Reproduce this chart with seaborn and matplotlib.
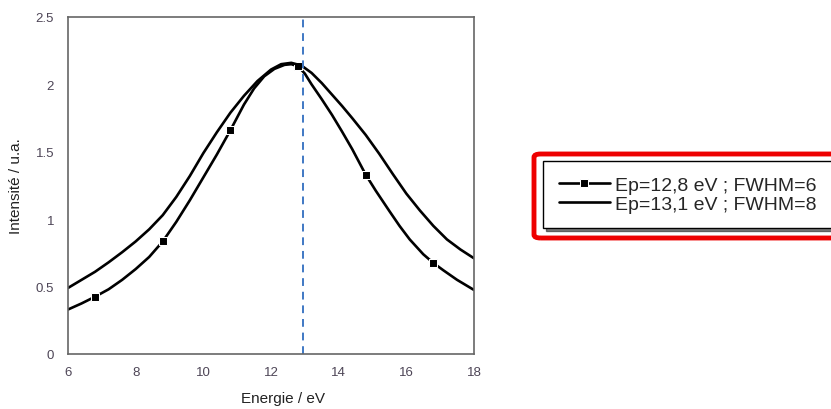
"""Spectre: deux profils d'intensité vs énergie, légende encadrée à droite."""
import matplotlib
matplotlib.use("Agg")

import matplotlib.pyplot as plt
import seaborn as sns
from matplotlib.patches import FancyBboxPatch

# Ep=12,8 eV ; FWHM=6 (courbe avec marqueurs)
energy_a = [6.0, 6.4, 6.8, 7.2, 7.6, 8.0, 8.4, 8.8, 9.2, 9.6, 10.0, 10.4,
            10.8, 11.2, 11.5, 11.8, 12.1, 12.4, 12.6, 12.8, 13.0, 13.2, 13.5,
            13.8, 14.1, 14.4, 14.8, 15.1, 15.5, 15.8, 16.1, 16.5, 16.8, 17.1,
            17.5, 18.0]
intens_a = [0.33, 0.375, 0.425, 0.48, 0.55, 0.63, 0.72, 0.835, 0.98, 1.14,
            1.31, 1.48, 1.66, 1.85, 1.97, 2.06, 2.115, 2.145, 2.15, 2.135,
            2.08, 2.00, 1.89, 1.775, 1.65, 1.52, 1.33, 1.21, 1.06, 0.95, 0.85,
            0.74, 0.675, 0.62, 0.55, 0.475]
marker_energy = [6.8, 8.8, 10.8, 12.8, 14.8, 16.8]

# Ep=13,1 eV ; FWHM=8
energy_b = [6.0, 6.4, 6.8, 7.2, 7.6, 8.0, 8.4, 8.8, 9.2, 9.6, 10.0, 10.4,
            10.8, 11.2, 11.6, 12.0, 12.3, 12.6, 12.9, 13.2, 13.5, 13.8, 14.1,
            14.4, 14.8, 15.2, 15.6, 16.0, 16.4, 16.8, 17.2, 17.6, 18.0]
intens_b = [0.49, 0.55, 0.61, 0.68, 0.755, 0.835, 0.925, 1.03, 1.165, 1.32,
            1.49, 1.645, 1.79, 1.915, 2.025, 2.11, 2.15, 2.16, 2.14, 2.085,
            2.01, 1.925, 1.84, 1.75, 1.625, 1.485, 1.335, 1.19, 1.065, 0.95,
            0.85, 0.775, 0.71]

labels = ["Ep=12,8 eV ; FWHM=6", "Ep=13,1 eV ; FWHM=8"]
x_ref = 12.95
x_ticks = [6, 8, 10, 12, 14, 16, 18]
y_ticks = [0, 0.5, 1, 1.5, 2, 2.5]
y_ticklabels = ["0", "0.5", "1", "1.5", "2", "2.5"]

sns.set_style("white")
plt.rcParams["font.family"] = ["Liberation Sans", "DejaVu Sans"]

W, H = 831, 410
fig = plt.figure(figsize=(W / 100, H / 100), dpi=100)
ax = fig.add_axes([68 / W, 1 - 355 / H, 406 / W, 337 / H])

marker_idx = [energy_a.index(e) for e in marker_energy]
sns.lineplot(x=energy_a, y=intens_a, ax=ax, color="black", lw=1.9,
             marker="s", markersize=6, markevery=marker_idx,
             estimator=None, sort=False, label=labels[0])
sns.lineplot(x=energy_b, y=intens_b, ax=ax, color="black", lw=1.9,
             estimator=None, sort=False, label=labels[1])
ax.axvline(x_ref, color="#3f78c4", lw=1.4, ls=(0, (4, 3)))

ax.set_xlim(6, 18)
ax.set_ylim(0, 2.5)
ax.set_xticks(x_ticks)
ax.set_yticks(y_ticks)
ax.set_yticklabels(y_ticklabels)
ax.tick_params(axis="x", direction="in", length=4.5, width=1.1,
               color="#555555", labelsize=9.5, labelcolor="#4d4556", pad=9)
ax.tick_params(axis="y", direction="out", length=6.5, width=1.1,
               color="#555555", labelsize=9.5, labelcolor="#4d4556", pad=3.5)
for side in ["left", "bottom", "top", "right"]:
    ax.spines[side].set_color("#666666")
    ax.spines[side].set_linewidth(1.2)

ax.set_xlabel("Energie / eV", fontsize=11, color="#222222")
ax.xaxis.set_label_coords(0.53, -0.11)
ax.set_ylabel("Intensité / u.a.", fontsize=11, color="#222222", labelpad=9)

ax.get_legend().remove()
handles, _ = ax.get_legend_handles_labels()
fig.legend(handles[:2], labels, loc="upper left",
           bbox_to_anchor=(543 / W, 1 - 162 / H),
           fontsize=14, frameon=True, fancybox=False, shadow={"color": "black"},
           edgecolor="black", framealpha=1, handlelength=2.65,
           handletextpad=0.25, labelspacing=0.05, borderpad=0.8,
           borderaxespad=0, numpoints=1)

fig.patches.append(FancyBboxPatch(
    (534 / W, 1 - 239 / H), 320 / W, 84 / H,
    boxstyle="round,pad=0,rounding_size=0.008",
    transform=fig.transFigure, facecolor="none", edgecolor="#ee0000",
    lw=3.5, zorder=5))

fig.savefig("out.png", dpi=100)
